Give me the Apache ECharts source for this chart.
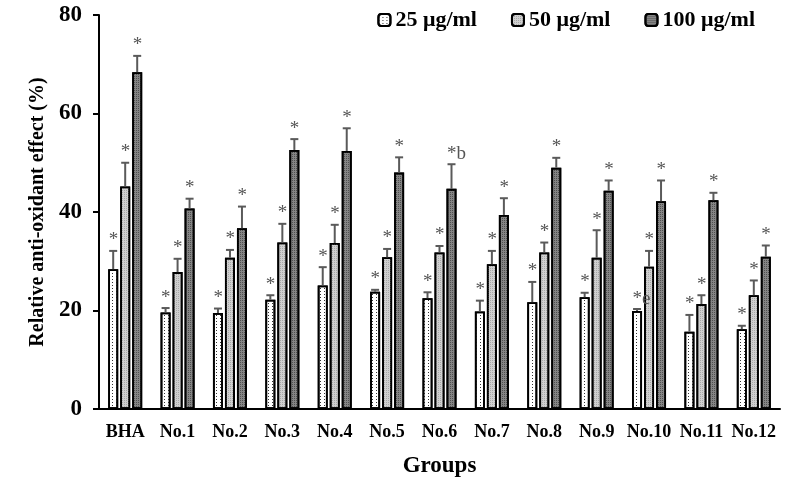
<!DOCTYPE html>
<html>
<head>
<meta charset="utf-8">
<script src="https://cdn.jsdelivr.net/npm/echarts@6/dist/echarts.min.js"></script>
<style>
html,body{margin:0;padding:0;background:#fff;}
#chart{width:800px;height:486px;}
</style>
</head>
<body>
<div id="chart"></div>
<script>
var categories = ['BHA','No.1','No.2','No.3','No.4','No.5','No.6','No.7','No.8','No.9','No.10','No.11','No.12'];
var seriesNames = ['25 \u03bcg/ml','50 \u03bcg/ml','100 \u03bcg/ml'];
var v25  = [28.4,19.6,19.5,22.2,25.1,23.8,22.5,19.8,21.7,22.7,19.9,15.7,16.2];
var e25  = [3.7,0.9,0.9,0.9,3.7,0.4,1.2,2.2,4.1,0.9,0.4,3.4,0.7];
var v50  = [45.2,27.8,30.7,33.8,33.7,30.8,31.8,29.4,31.8,30.7,28.9,21.3,23.1];
var e50  = [4.8,2.7,1.6,3.8,3.7,1.7,1.3,2.7,2.0,5.6,3.2,1.8,3.0];
var v100 = [68.4,40.7,36.7,52.6,52.4,48.0,44.7,39.4,49.0,44.3,42.2,42.4,30.9];
var e100 = [3.3,2.0,4.4,2.2,4.6,3.1,5.0,3.4,2.0,2.1,4.2,1.5,2.3];
var m25  = ['*','*','*','*','*','*','*','*','*','*','*e','*','*'];
var m50  = ['*','*','*','*','*','*','*','*','*','*','*','*','*'];
var m100 = ['*','*','*','*','*','*','*b','*','*','*','*','*','*'];
var yTicks = [0,20,40,60,80];

var FONT = '"Liberation Serif","Times New Roman",serif';
var vals = [v25, v50, v100], errs = [e25, e50, e100], marks = [m25, m50, m100];
var offsets = [-12, 0, 12];

var fills = ['#ffffff', '#d0d0d0', '#858585'];
var decals = [
  {symbol:'rect', symbolSize:1, dashArrayX:[[1,3]], dashArrayY:[1,2], color:'#333333'},
  {symbol:'rect', symbolSize:1, dashArrayX:[[1,1]], dashArrayY:[1,1], color:'#a8a8a8'},
  {symbol:'rect', symbolSize:1, dashArrayX:[[1,1]], dashArrayY:[1,1], color:'#505050'}
];

var series = [];
for (var k = 0; k < 3; k++) {
  series.push({
    name: seriesNames[k],
    type: 'bar',
    data: vals[k],
    barWidth: 10,
    barGap: '20%',
    itemStyle: {color: fills[k], borderColor: '#000', borderWidth: 1.8, decal: decals[k]}
  });
}
for (var k2 = 0; k2 < 3; k2++) {
  (function(k){
    var d = [];
    for (var i = 0; i < categories.length; i++) d.push([i, vals[k][i], errs[k][i], marks[k][i]]);
    series.push({
      type: 'custom',
      data: d,
      z: 5,
      silent: true,
      renderItem: function(params, api) {
        var i = api.value(0);
        var v = api.value(1), e = api.value(2);
        var m = marks[k][i];
        var p0 = api.coord([i, v]);
        var p1 = api.coord([i, v + e]);
        var x = p0[0] + offsets[k];
        return {type:'group', children:[
          {type:'line', shape:{x1:x, y1:p0[1], x2:x, y2:p1[1]}, style:{stroke:'#5a5a5a', lineWidth:2}},
          {type:'line', shape:{x1:x-4, y1:p1[1], x2:x+4, y2:p1[1]}, style:{stroke:'#5a5a5a', lineWidth:2}},
          {type:'text', x: x - 4.5, y: p1[1] - 1, style:{text:m, font:'19px ' + FONT, fill:'#555', textAlign:'left', textVerticalAlign:'bottom'}}
        ]};
      }
    });
  })(k2);
}

var chart = echarts.init(document.getElementById('chart'), null, {renderer:'canvas'});
chart.setOption({
  animation: false,
  backgroundColor: '#fff',
  grid: {left: 99, right: 20, top: 15, bottom: 77},
  legend: {
    data: seriesNames,
    right: 40, top: 4,
    itemWidth: 12, itemHeight: 12, itemGap: 34,
    textStyle: {fontFamily: FONT, fontWeight: 'bold', fontSize: 22, color: '#000'}
  },
  xAxis: {
    type: 'category',
    data: categories,
    name: 'Groups',
    nameLocation: 'middle',
    nameGap: 46,
    nameTextStyle: {fontFamily: FONT, fontWeight: 'bold', fontSize: 23, color: '#000', verticalAlign: 'top'},
    axisLine: {lineStyle: {color: '#000', width: 2}},
    axisTick: {show: false},
    axisLabel: {fontFamily: FONT, fontWeight: 'bold', fontSize: 18, color: '#000', margin: 14, interval: 0}
  },
  yAxis: {
    type: 'value',
    min: yTicks[0], max: yTicks[yTicks.length-1], interval: 20,
    name: 'Relative anti-oxidant effect (%)',
    nameLocation: 'middle',
    nameGap: 50,
    nameTextStyle: {fontFamily: FONT, fontWeight: 'bold', fontSize: 20, color: '#000'},
    axisLine: {show: true, lineStyle: {color: '#000', width: 2}},
    axisTick: {show: true, length: 6, lineStyle: {color: '#000', width: 2}},
    axisLabel: {fontFamily: FONT, fontWeight: 'bold', fontSize: 23, color: '#000', margin: 17},
    splitLine: {show: false}
  },
  series: series
});
</script>
</body>
</html>
